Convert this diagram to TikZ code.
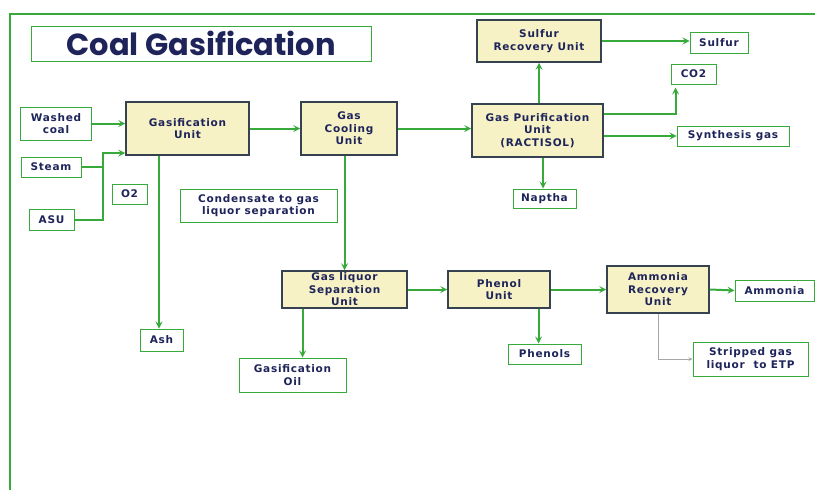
\documentclass[tikz,border=0pt]{standalone}
\usepackage{fontspec}
\newfontfamily\boxfont{DejaVu Sans}[LetterSpace=7]
\newfontfamily\titlefont{Poppins}
\usetikzlibrary{arrows, positioning}
\definecolor{pipegreen}{RGB}{56,170,60}
\definecolor{inkblue}{RGB}{30,36,90}
\definecolor{unitfill}{RGB}{246,242,198}
\definecolor{unitline}{RGB}{55,66,80}
\tikzset{
	unitbox/.style={draw=unitline, line width=1.5pt, fill=unitfill, align=center, inner sep=1pt, text=inkblue, font=\boxfont\bfseries\fontsize{10.5}{12.5}\selectfont}
}
\tikzset{
	outbox/.style={draw=pipegreen, line width=1pt, fill=white, align=center, inner sep=1pt, text=inkblue, font=\boxfont\bfseries\fontsize{10.5}{12.5}\selectfont}
}
\tikzset{
	flow/.style={draw=pipegreen, line width=2pt, ->},
	grayflow/.style={draw=gray!70, line width=0.8pt, ->}
}

\begin{document}
\begin{tikzpicture}[>=stealth, x=1pt, y=-1pt]
      \useasboundingbox (0,0) rectangle (815,490);
      \draw[pipegreen, line width=2.2pt] (10,490) -- (10,14) -- (815,14);
      \node[draw=pipegreen, line width=1pt, minimum width=340pt, minimum height=35pt, text=inkblue, font=\titlefont\bfseries\fontsize{30.5}{33}\selectfont] (title) at (201,43.5) {Coal Gasification};

      % process units
      \node[unitbox, minimum width=123pt, minimum height=53pt] (gasu) at (187.5,128.5) {Gasification\\ Unit};
      \node[unitbox, minimum width=96pt, minimum height=53pt] (cool) at (349,128.5) {Gas\\ Cooling\\ Unit};
      \node[unitbox, minimum width=131pt, minimum height=53pt] (purif) at (537.5,130.5) {Gas Purification\\ Unit\\ (RACTISOL)};
      \node[unitbox, minimum width=124pt, minimum height=42pt] (sru) at (539,41) {Sulfur\\ Recovery Unit};
      \node[unitbox, minimum width=125pt, minimum height=37pt] (glsep) at (344.5,289.5) {Gas liquor\\ Separation\\ Unit};
      \node[unitbox, minimum width=102pt, minimum height=37pt] (phenol) at (499,289.5) {Phenol\\ Unit};
      \node[unitbox, minimum width=102pt, minimum height=47pt] (amrec) at (658,289.5) {Ammonia\\ Recovery\\ Unit};

      % feeds and products
      \node[outbox, minimum width=71pt, minimum height=33pt] (coal) at (56,123.5) {Washed\\ coal};
      \node[outbox, minimum width=60pt, minimum height=20pt] (steam) at (51,167) {Steam};
      \node[outbox, minimum width=45pt, minimum height=21pt] (asu) at (51.5,219.5) {ASU};
      \node[outbox, minimum width=35pt, minimum height=20pt] (otwo) at (129.5,194) {O2};
      \node[outbox, minimum width=157pt, minimum height=33pt] (cond) at (258.5,205.5) {Condensate to gas\\ liquor separation};
      \node[outbox, minimum width=43pt, minimum height=22pt] (ash) at (161.5,340) {Ash};
      \node[outbox, minimum width=107pt, minimum height=34pt] (oil) at (292.5,375) {Gasification\\ Oil};
      \node[outbox, minimum width=58pt, minimum height=21pt] (sulfur) at (719,42.5) {Sulfur};
      \node[outbox, minimum width=45pt, minimum height=20pt] (co2) at (693.5,74) {CO2};
      \node[outbox, minimum width=112pt, minimum height=20pt] (synth) at (733,136) {Synthesis gas};
      \node[outbox, minimum width=63pt, minimum height=19pt] (naptha) at (544.5,198.5) {Naptha};
      \node[outbox, minimum width=73pt, minimum height=20pt] (phenols) at (544.5,354) {Phenols};
      \node[outbox, minimum width=79pt, minimum height=21pt] (ammonia) at (774.5,290.5) {Ammonia};
      \node[outbox, minimum width=115pt, minimum height=34pt] (stripped) at (750.5,359) {Stripped gas\\ liquor\ \ to ETP};

      % inlets to the gasifier
      \coordinate (join) at (103,153);
      \draw[flow] (coal.east) -- (gasu.west |- coal.east);
      \draw[pipegreen, line width=2pt] (steam.east) -- (steam.east -| join);
      \draw[flow] (asu.east) -| (join) -- (gasu.west |- join);
      \draw[flow] ([xshift=-2.5pt]ash.north |- gasu.south) -- ([xshift=-2.5pt]ash.north);

      % main gas line
      \draw[flow] (gasu.east) -- (cool.west);
      \draw[flow] (cool.east) -- (purif.west |- cool.east);
      \draw[flow] (sru.south |- purif.north) -- (sru.south);
      \draw[flow] (sru.east) -- (sulfur.west |- sru.east);
      \draw[flow] ([yshift=17pt]purif.east) -| ([xshift=5pt, yshift=-3pt]co2.south west);
      \draw[flow] (purif.east |- synth.west) -- (synth.west);
      \draw[flow] ([xshift=-1.5pt]naptha.north |- purif.south) -- ([xshift=-1.5pt]naptha.north);

      % gas liquor line
      \draw[flow] (glsep.north |- cool.south) -- (glsep.north);
      \draw[flow] ([xshift=10pt]oil.north |- glsep.south) -- ([xshift=10pt]oil.north);
      \draw[flow] (glsep.east) -- (phenol.west);
      \draw[flow] ([xshift=-6pt]phenols.north |- phenol.south) -- ([xshift=-6pt]phenols.north);
      \draw[flow] (phenol.east) -- (amrec.west);
      \draw[flow] (amrec.east) -- (ammonia.west);
      \draw[grayflow] (amrec.south) |- (stripped.west);
    \end{tikzpicture}
\end{document}
